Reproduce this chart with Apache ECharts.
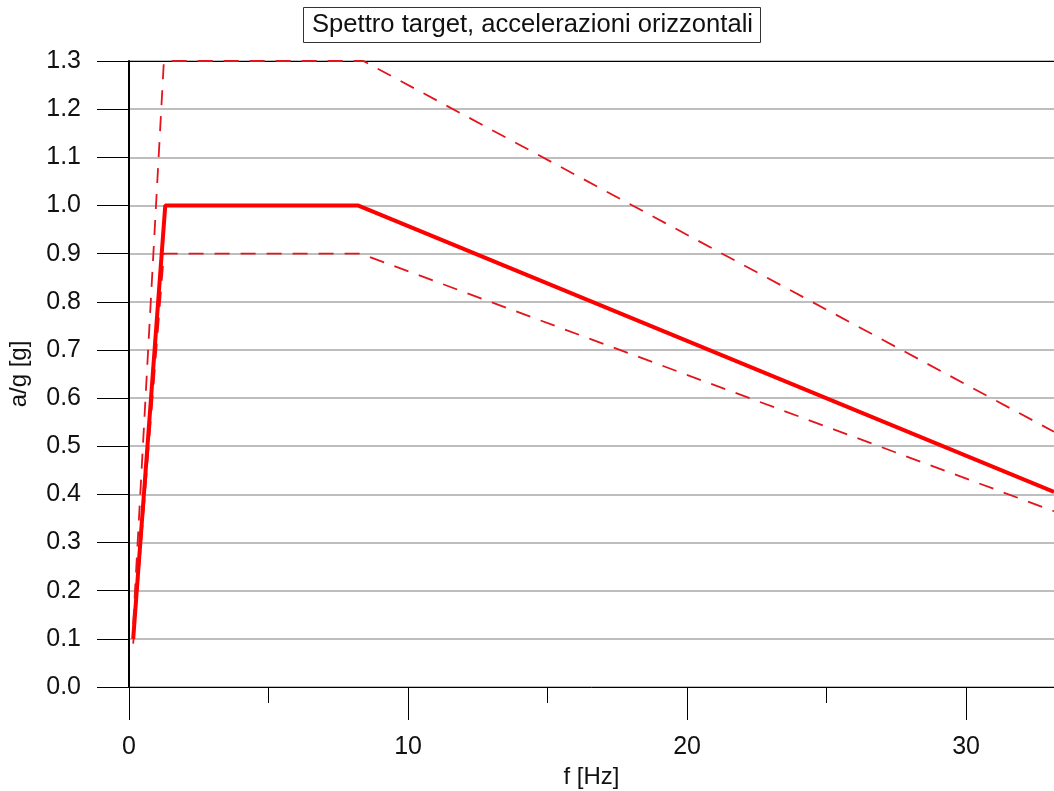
<!DOCTYPE html>
<html>
<head>
<meta charset="utf-8">
<script src="https://cdn.jsdelivr.net/npm/echarts@6/dist/echarts.min.js"></script>
<style>
    html, body { margin: 0; padding: 0; background: #fff; }
    #spettro { width: 1054px; height: 791px; }
</style>
</head>
<body>
<div id="spettro"></div>
<script>
// spettro target e limiti di tolleranza (f [Hz], a/g [g])
const targetF = [0.15, 1.3, 8.2, 33.15];
const targetA = [0.1, 1.0, 1.0, 0.405];
const upperF = [0.15, 1.25, 8.4, 33.15];
const upperA = [0.13, 1.3, 1.3, 0.53];
const lowerF = [0.15, 1.25, 8.3, 33.15];
const lowerA = [0.09, 0.9, 0.9, 0.365];
const yTop = 1.3;

const fontName = 'Liberation Sans, Arial, sans-serif';

function pairs(xs, ys) {
    return xs.map((x, i) => [x, ys[i]]);
}

const chart = echarts.init(document.getElementById('spettro'));
chart.setOption({
    animation: false,
    backgroundColor: '#fff',
    title: {
        text: 'Spettro target, accelerazioni orizzontali',
        left: 303,
        top: 7,
        padding: [5, 8, 5, 9],
        borderColor: '#333',
        borderWidth: 1,
        textStyle: { fontFamily: fontName, fontSize: 25.6, fontWeight: 'normal', color: '#111' }
    },
    grid: { left: 129, right: 0, top: 61, bottom: 104, outerBoundsMode: 'none', containLabel: false },
    xAxis: {
        type: 'value',
        min: 0,
        max: 33.15,
        interval: 10,
        name: 'f [Hz]',
        nameLocation: 'middle',
        nameGap: 76,
        nameTextStyle: { fontFamily: fontName, fontSize: 24, color: '#111' },
        axisLine: { show: true, onZero: false, lineStyle: { color: '#000', width: 1 } },
        axisTick: { show: true, length: 33, lineStyle: { color: '#000' } },
        minorTick: { show: true, splitNumber: 2, length: 16, lineStyle: { color: '#000' } },
        axisLabel: { margin: 48, showMaxLabel: false, fontFamily: fontName, fontSize: 25, color: '#111' },
        splitLine: { show: false }
    },
    yAxis: {
        type: 'value',
        min: 0,
        max: yTop,
        interval: 0.1,
        name: 'a/g [g]',
        nameLocation: 'middle',
        nameGap: 98,
        nameTextStyle: { fontFamily: fontName, fontSize: 24, color: '#111' },
        axisLine: { show: true, onZero: false, lineStyle: { color: '#000', width: 2 } },
        axisTick: { show: true, length: 32, lineStyle: { color: '#000' } },
        axisLabel: {
            margin: 48,
            fontFamily: fontName,
            fontSize: 25,
            color: '#111',
            formatter: v => v.toFixed(1)
        },
        splitLine: { show: true, lineStyle: { color: '#a8a8a8', width: 1.5 } }
    },
    series: [{
        name: 'target',
        type: 'line',
        data: pairs(targetF, targetA),
        symbol: 'none',
        lineStyle: { color: '#ff0000', width: 4 },
        z: 4
    }, {
        name: 'limite superiore',
        type: 'line',
        data: pairs(upperF, upperA),
        symbol: 'none',
        clip: false,
        lineStyle: { color: '#e4141c', width: 1.8, type: [15, 11] },
        z: 5
    }, {
        name: 'limite inferiore',
        type: 'line',
        data: pairs(lowerF, lowerA),
        symbol: 'none',
        lineStyle: { color: '#e4141c', width: 1.8, type: [15, 11] },
        z: 3,
        markLine: {
            silent: true,
            z: 2,
            symbol: 'none',
            label: { show: false },
            lineStyle: { color: '#000', width: 1.2, type: 'solid' },
            data: [{ yAxis: yTop }]
        }
    }]
});
</script>
</body>
</html>
